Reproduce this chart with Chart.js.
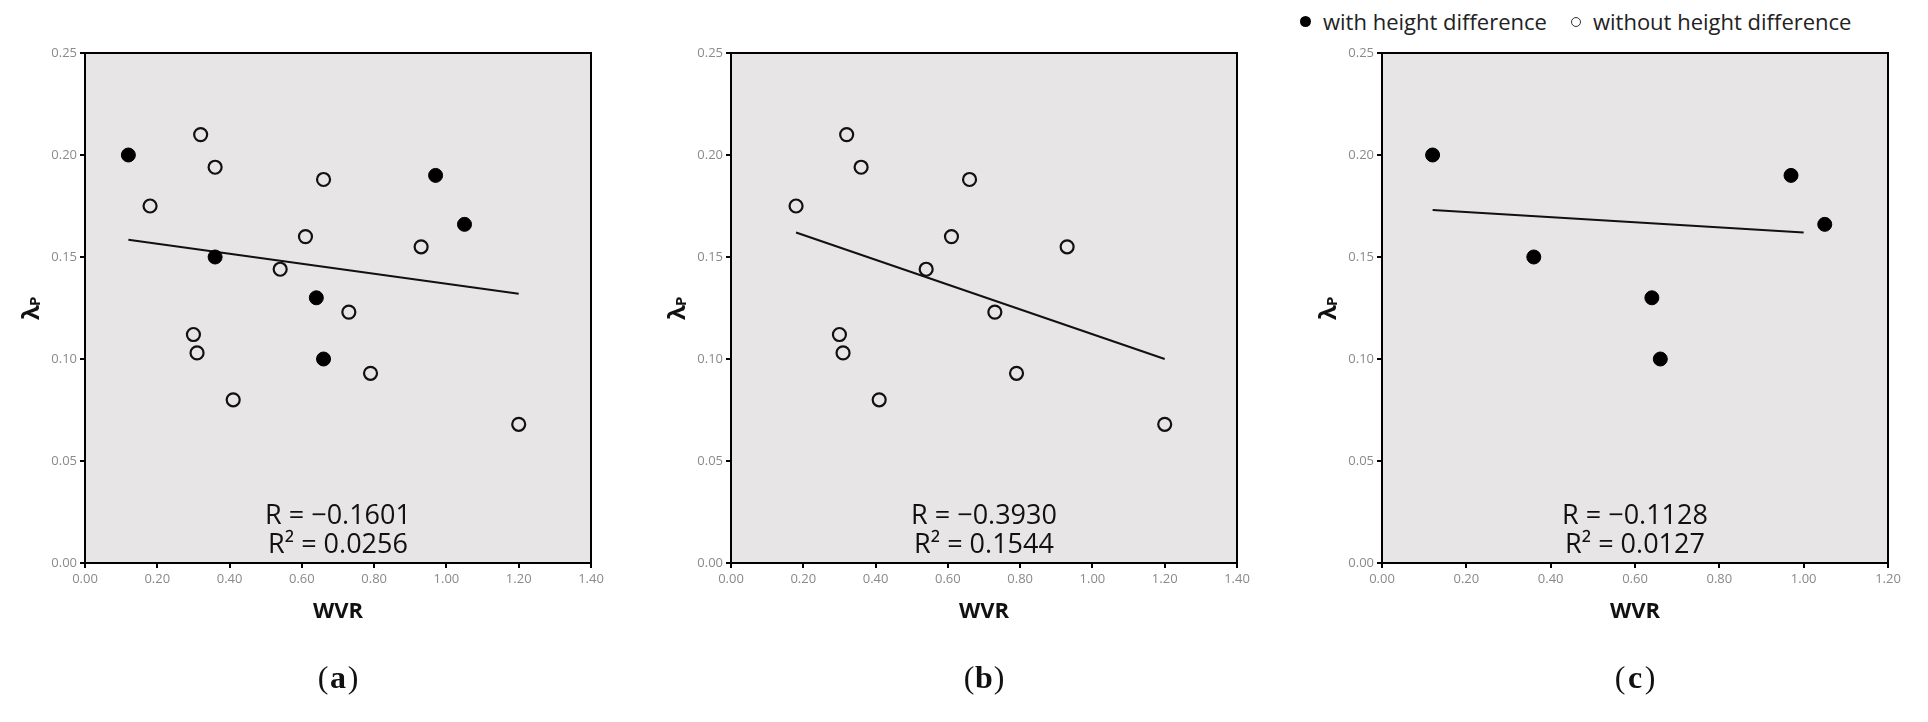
<!DOCTYPE html>
<html><head><meta charset="utf-8">
<script src="https://cdn.jsdelivr.net/npm/chart.js@4/dist/chart.umd.min.js"></script>
<style>body{margin:0;background:#fff;width:1928px;height:722px;position:relative;overflow:hidden;font-family:"Open Sans",sans-serif}
canvas{position:absolute;top:0}
#legend{position:absolute;left:1300px;top:6px;font-size:22px;color:#222;white-space:nowrap}
#legend span{display:inline-block;width:11px;height:11px;border-radius:50%;margin-right:12px;vertical-align:3px}
</style></head><body>
<div id="legend"><span style="background:#000"></span>with height difference<span style="border:1.5px solid #333;width:8px;height:8px;margin-left:24px"></span>without height difference</div>
<canvas id="ca" style="left:0"></canvas><canvas id="cb" style="left:646px"></canvas><canvas id="cc" style="left:1297px"></canvas>
<script>
const withX=[0.12,0.36,0.64,0.66,0.97,1.05];
const withY=[0.200,0.150,0.130,0.100,0.190,0.166];
const withoutX=[0.18,0.32,0.36,0.66,0.61,0.54,0.93,0.30,0.31,0.41,0.73,0.79,1.20];
const withoutY=[0.175,0.210,0.194,0.188,0.160,0.144,0.155,0.112,0.103,0.080,0.123,0.093,0.068];
const fitA=[[0.12,0.1585],[1.20,0.132]];
const fitB=[[0.18,0.162],[1.20,0.100]];
const fitC=[[0.12,0.173],[1.00,0.162]];
const statsA=["R = \u22120.1601","R\u00b2 = 0.0256"];
const statsB=["R = \u22120.3930","R\u00b2 = 0.1544"];
const statsC=["R = \u22120.1128","R\u00b2 = 0.0127"];
const pts=(xs,ys)=>xs.map((x,i)=>({x,y:ys[i]}));
function make(id,label,xmax,sets,fit,stats){
  const c=document.getElementById(id);c.width=620;c.height=722;c.style.width='620px';c.style.height='722px';
  const ds=[];
  if(sets.includes('w'))ds.push({data:pts(withX,withY),pointRadius:7,backgroundColor:'#000',borderColor:'#000',pointBorderWidth:1});
  if(sets.includes('o'))ds.push({data:pts(withoutX,withoutY),pointRadius:6.5,backgroundColor:'rgba(0,0,0,0)',borderColor:'#111',pointBorderWidth:2.2});
  ds.push({data:fit.map(p=>({x:p[0],y:p[1]})),showLine:true,pointRadius:0,borderColor:'#111',borderWidth:2});
  const tickFont={family:'"Open Sans"',size:13};
  new Chart(c,{type:'scatter',data:{datasets:ds},options:{responsive:false,animation:false,
    layout:{padding:{top:53,right:29,left:0,bottom:0}},
    plugins:{legend:{display:false},tooltip:{enabled:false}},
    scales:{
      x:{type:'linear',min:0,max:xmax,ticks:{stepSize:0.2,color:'#8a8a8a',font:tickFont,padding:3,callback:v=>v.toFixed(2)},
        grid:{drawOnChartArea:false,drawTicks:true,tickLength:5,color:'#000',lineWidth:2},border:{color:'#000',width:2},
        afterFit:s=>{s.height=159}},
      y:{min:0,max:0.25,ticks:{stepSize:0.05,color:'#8a8a8a',font:tickFont,padding:3,callback:v=>v.toFixed(2)},
        grid:{drawOnChartArea:false,drawTicks:true,tickLength:5,color:'#000',lineWidth:2},border:{color:'#000',width:2},
        afterFit:s=>{s.width=85}}}},
    plugins:[{id:'deco',
      beforeDatasetsDraw(ch){const a=ch.chartArea,g=ch.ctx;g.save();g.fillStyle='#e7e5e6';g.fillRect(a.left,a.top,a.width,a.height);g.restore();},
      afterDraw(ch){const a=ch.chartArea,g=ch.ctx;g.save();
        g.strokeStyle='#000';g.lineWidth=2;g.strokeRect(a.left,a.top,a.width,a.height);
        const cx=(a.left+a.right)/2;g.fillStyle='#111';g.textAlign='center';g.textBaseline='middle';
        g.font='27px "Open Sans"';g.fillText(stats[0],cx,516);g.fillText(stats[1],cx,545);
        g.font='bold 22px "Open Sans"';g.fillText('WVR',cx,612);
        g.font='32px "Liberation Serif"';g.fillText('(',cx-15,680);g.fillText(')',cx+15,680);
        g.font='bold 32px "Liberation Serif"';g.fillText(label,cx,680);
        g.translate(32,308);g.rotate(-Math.PI/2);g.textAlign='left';
        g.font='bold 24px "Open Sans"';g.fillText('\u03bb',-12,0);g.font='bold 15px "Open Sans"';g.fillText('P',2,4);
        g.restore();}}]});
}
make('ca','a',1.4,'wo',fitA,statsA);
make('cb','b',1.4,'o',fitB,statsB);
make('cc','c',1.2,'w',fitC,statsC);
</script></body></html>
